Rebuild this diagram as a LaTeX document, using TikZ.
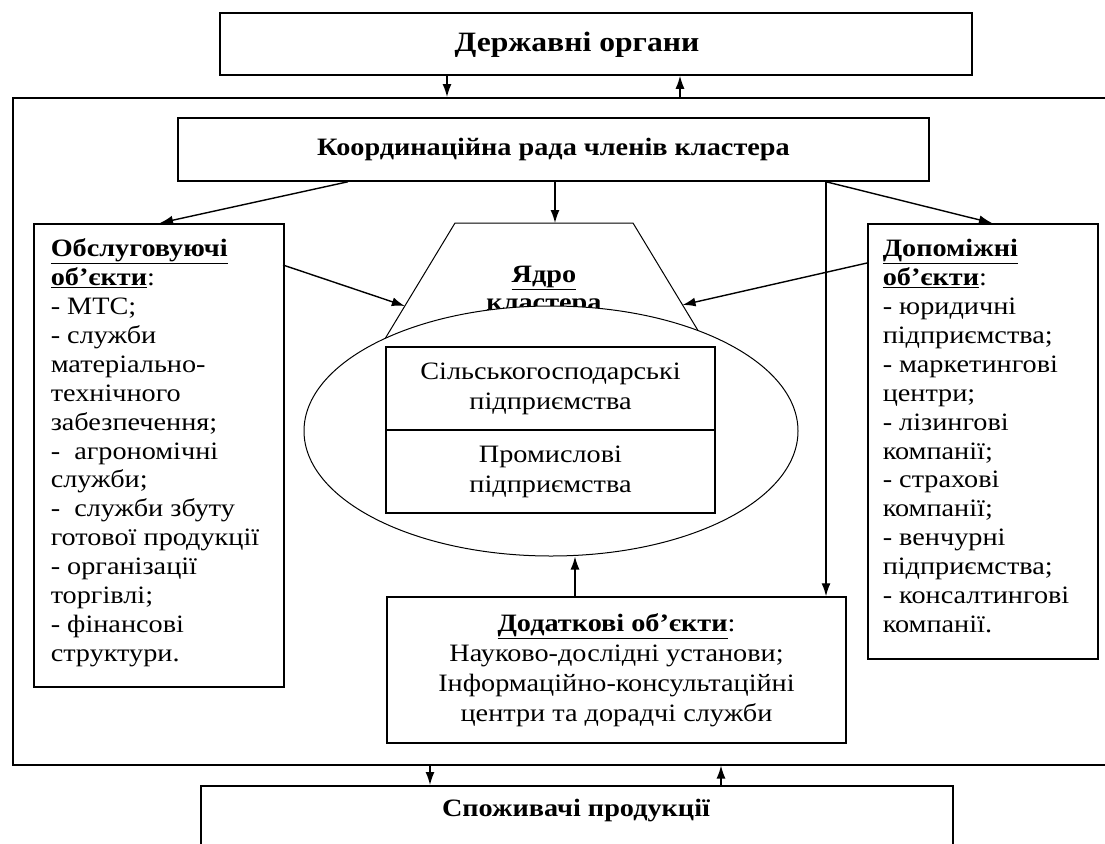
\documentclass[tikz,border=0pt]{standalone}
\usepackage{fontspec}
\setmainfont{Liberation Serif}[FakeStretch=1.13]
\usetikzlibrary{arrows.meta,calc,shapes.geometric}
\begin{document}
\begin{tikzpicture}[x=1pt,y=-1pt,
  box/.style={draw, line width=1.5pt, inner sep=0pt, font=\fontsize{25}{30}\selectfont},
  bold/.style={font=\bfseries\fontsize{25}{30}\selectfont},
  arr/.style={line width=1.4pt, -{Latex[length=13pt,width=9pt]}},
  thinline/.style={line width=1pt},
]
\useasboundingbox (0,0) rectangle (1105,843);

% outer frame
\node[draw, line width=1.5pt, inner sep=0pt, anchor=north west,
      minimum width=1110pt, minimum height=667pt] (frame) at (12,97) {};

% top and coordination boxes
\node[draw, line width=1.5pt, inner sep=0pt, minimum width=752pt, minimum height=62pt] (gov) at (596,44) {};
\node[font=\bfseries\fontsize{28}{32}\selectfont, inner sep=0pt] (govl) at (577,45) {Державні органи};
\node[box, bold, minimum width=751pt, minimum height=63pt] (coord) at (553.5,149.5) {Координаційна рада членів кластера};

% left box
\node[box, anchor=north west, inner xsep=17pt] (obsl) at (33,223)
 {\parbox[b][463pt][t]{216pt}{\fontsize{25}{28.9}\selectfont\raggedright
  \rule{0pt}{33pt}\underline{\textbf{Обслуговуючі}}\\
  \underline{\textbf{об’єкти}}:\\
  - МТС;\\
  - служби\\
  матеріально-\\
  технічного\\
  забезпечення;\\
  - \ агрономічні\\
  служби;\\
  - \ служби збуту\\
  готової продукції\\
  - організації\\
  торгівлі;\\
  - фінансові\\
  структури.}};

% right box
\node[box, anchor=north west, inner xsep=15pt] (dop) at (867,223)
 {\parbox[b][435pt][t]{200pt}{\fontsize{25}{28.9}\selectfont\raggedright
  \rule{0pt}{33pt}\underline{\textbf{Допоміжні}}\\
  \underline{\textbf{об’єкти}}:\\
  - юридичні\\
  підприємства;\\
  - маркетингові\\
  центри;\\
  - лізингові\\
  компанії;\\
  - страхові\\
  компанії;\\
  - венчурні\\
  підприємства;\\
  - консалтингові\\
  компанії.}};

% trapezoid (core)
\coordinate (tl) at (455,223);
\coordinate (tr) at (633,223);
\coordinate (bl) at (348,400);
\coordinate (br) at (740,400);
\coordinate (trap) at (555,223);
\draw[thinline] (bl) -- (tl) -- (tr) -- (br);
\coordinate (lside) at ($(tl)!0.469!(bl)$);
\coordinate (rside) at ($(tr)!0.463!(br)$);
\node[bold, anchor=base, inner sep=0pt] (yadro) at (544,282) {\underline{Ядро}};
\node[bold, anchor=base, inner sep=0pt] (klaster) at (544,310) {кластера};

% ellipse
\node[draw, thinline, fill=white, ellipse, inner sep=0pt,
      minimum width=494pt, minimum height=250pt] (core) at (551,431) {};

% inner boxes
\node[box, line width=1.2pt, minimum width=329pt, minimum height=83pt, align=center] (agri) at (550.5,388.5) {Сільськогосподарські\\підприємства};
\node[box, line width=1.2pt, minimum width=329pt, minimum height=83pt, align=center] (ind) at (550.5,471.5) {Промислові\\підприємства};

% additional box
\node[box, minimum width=459pt, minimum height=146pt, align=center] (dod) at (616.5,670)
 {\underline{\textbf{Додаткові об’єкти}}:\\Науково-дослідні установи;\\Інформаційно-консультаційні\\центри та дорадчі служби};

% consumers box
\node[draw, line width=1.5pt, inner sep=0pt, anchor=north west,
      minimum width=752pt, minimum height=100pt] (cons) at (200,785) {};
\node[bold, inner sep=0pt] (consl) at (576,811) {Споживачі продукції};

% x positions
\coordinate (xa) at (447,0);
\coordinate (xb) at (680,0);
\coordinate (xc) at (430,0);
\coordinate (xd) at (721,0);
\coordinate (xe) at (348,0);
\coordinate (xf) at (826,0);
\coordinate (xg) at (575,0);
\coordinate (ltop) at (160,223);
\coordinate (rtop) at (992,223);
\coordinate (lfrom) at (283,265);
\coordinate (rfrom) at (867,263);

% arrows
\draw[arr] (gov.south -| xa) -- (frame.north -| xa);
\draw[arr] (frame.north -| xb) -- (gov.south -| xb);
\draw[arr] (frame.south -| xc) -- (cons.north -| xc);
\draw[arr] (cons.north -| xd) -- (frame.south -| xd);
\draw[arr] (coord.south -| xe) -- (ltop);
\draw[arr] (coord.south -| trap) -- (trap);
\draw[arr] (coord.south -| xf) -- (dod.north -| xf);
\draw[arr] (coord.south -| xf) -- (rtop);
\draw[arr] (lfrom) -- (lside);
\draw[arr] (rfrom) -- (rside);
\draw[arr] (dod.north -| xg) -- (core.south -| xg);
\end{tikzpicture}
\end{document}
